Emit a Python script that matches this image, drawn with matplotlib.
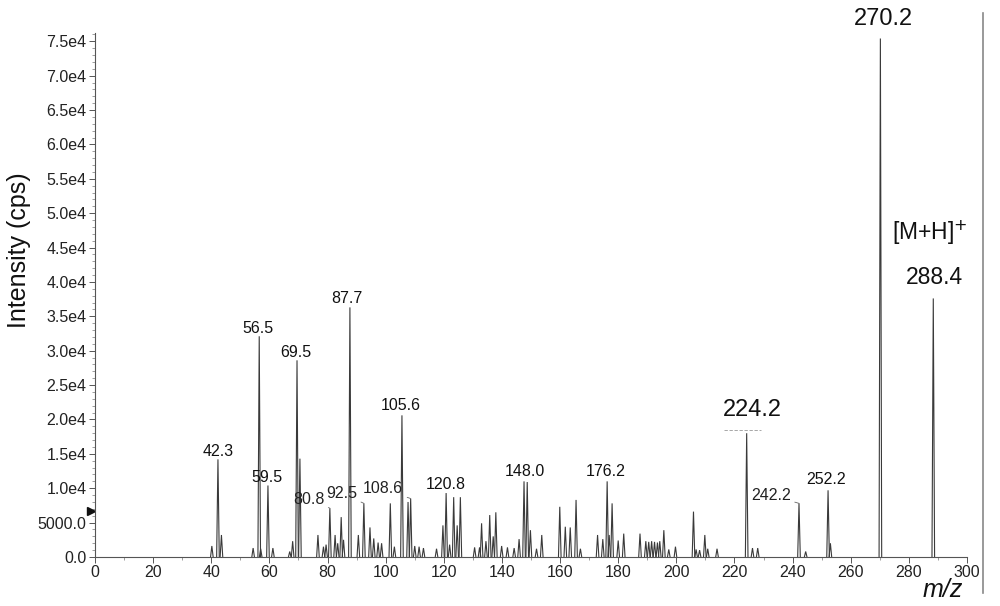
import matplotlib
matplotlib.use("Agg")
import matplotlib.pyplot as plt
from matplotlib.lines import Line2D
from matplotlib.ticker import MultipleLocator, FixedLocator, FixedFormatter

plt.rcParams['font.family'] = ['Liberation Sans', 'DejaVu Sans']

# --- data (m/z, intensity in cps) ---
peak_mz = [40.2, 42.3, 43.5, 54.4, 56.5, 57.0, 59.5, 61.2, 67.0, 68.0,
           69.5, 70.5, 76.7, 78.6, 79.5, 80.8, 82.6, 83.5, 84.7, 85.5,
           87.7, 90.6, 92.5, 94.6, 95.9, 97.4, 98.6, 101.6, 103.0, 105.6,
           107.7, 108.6, 110.0, 111.5, 113.0, 117.5, 119.7, 120.8, 122.0, 123.4,
           124.6, 125.7, 130.6, 132.3, 133.0, 134.5, 135.8, 137.0, 137.9, 139.9,
           141.9, 144.2, 145.9, 147.6, 148.7, 149.8, 151.9, 153.7, 159.9, 161.8,
           163.5, 165.5, 167.0, 172.9, 174.7, 176.2, 176.9, 177.9, 180.0, 181.9,
           187.5, 189.5, 190.5, 191.5, 192.5, 193.5, 194.3, 195.7, 197.4, 199.7,
           205.9, 206.8, 208.0, 209.8, 210.8, 214.0, 224.2, 226.2, 228.0, 242.2,
           244.5, 252.2, 253.0, 270.2, 288.4]
peak_int = [1600, 14200, 3200, 1300, 32100, 1200, 10400, 1300, 800, 2300,
            28600, 14300, 3200, 1500, 1800, 7100, 3200, 2000, 5800, 2500,
            36300, 3200, 7800, 4300, 2700, 2100, 2000, 7800, 1500, 20600,
            8000, 8500, 1600, 1500, 1300, 1200, 4600, 9300, 1800, 8700,
            4600, 8700, 1400, 1400, 4900, 2300, 6100, 3000, 6500, 1600,
            1400, 1300, 2600, 11000, 10900, 3900, 1200, 3200, 7300, 4400,
            4300, 8300, 1200, 3200, 2600, 11000, 3200, 7800, 2400, 3400,
            3400, 2300, 2200, 2300, 2200, 2100, 2300, 3900, 1100, 1500,
            6600, 1100, 1000, 3200, 1200, 1200, 18000, 1300, 1300, 7800,
            800, 9700, 2000, 75400, 37600]

label_text = ["42.3", "56.5", "59.5", "69.5", "87.7", "80.8", "92.5", "105.6",
              "108.6", "120.8", "148.0", "176.2", "224.2", "242.2", "252.2",
              "270.2", "288.4", "[M+H]$^{+}$"]
label_peak = [42.3, 56.5, 59.5, 69.5, 87.7, 80.8, 92.5, 105.6,
              108.6, 120.8, 148.0, 176.2, 224.2, 242.2, 252.2,
              270.2, 288.4, 288.4]

ytick_vals = [0, 5000, 10000, 15000, 20000, 25000, 30000, 35000, 40000,
              45000, 50000, 55000, 60000, 65000, 70000, 75000]
ytick_text = ["0.0", "5000.0", "1.0e4", "1.5e4", "2.0e4", "2.5e4", "3.0e4",
              "3.5e4", "4.0e4", "4.5e4", "5.0e4", "5.5e4", "6.0e4", "6.5e4",
              "7.0e4", "7.5e4"]

# label layout (data coords of text centre) and leader lines
label_xy = [(42.4, 15400), (56.1, 33300), (59.1, 11600), (69.1, 29800),
            (86.8, 37600), (73.5, 8400), (84.8, 9300), (105.3, 22100),
            (99.1, 9900), (120.7, 10500), (148.0, 12400), (175.7, 12400),
            (226.3, 21400), (232.5, 9000), (251.6, 11200),
            (271.1, 78200), (288.9, 40700), (287.2, 47100)]
big_labels = {"224.2": 17, "270.2": 17, "288.4": 16.5, "[M+H]$^{+}$": 16.5}
leader = ["80.8", "92.5", "108.6", "242.2"]

fig = plt.figure(figsize=(10, 6.06), dpi=100)
ax = fig.add_axes([0.095, 1 - 557 / 606, 0.872, 524 / 606])

# each peak drawn as a narrow triangle
half_w = 0.45
for mz, h in zip(peak_mz, peak_int):
    ax.plot([mz - half_w, mz, mz + half_w], [0, h, 0],
            color='#3a3a3a', lw=0.8, solid_joinstyle='miter')

ax.set_xlim(0, 300)
ax.set_ylim(0, 76200)

for s in ['top', 'right']:
    ax.spines[s].set_visible(False)
for s in ['left', 'bottom']:
    ax.spines[s].set_color('#555555')
    ax.spines[s].set_linewidth(0.8)

ax.xaxis.set_major_locator(MultipleLocator(20))
ax.xaxis.set_minor_locator(MultipleLocator(10))
ax.yaxis.set_major_locator(FixedLocator(ytick_vals))
ax.yaxis.set_major_formatter(FixedFormatter(ytick_text))
ax.yaxis.set_minor_locator(MultipleLocator(1000))
ax.tick_params(which='major', length=4, width=0.7, color='#555555',
               labelsize=11.5, labelcolor='#222222', pad=2)
ax.tick_params(which='minor', length=2, width=0.5, color='#777777')

fig.text(0.019, 1 - 250 / 606, "Intensity (cps)", rotation=90, fontsize=18,
         ha='center', va='center', color='#111111')
fig.text(0.943, 1 - 590 / 606, "m/z", style='italic', fontsize=18,
         ha='center', va='center', color='#111111')

for txt, pk, (lx, ly) in zip(label_text, label_peak, label_xy):
    fs = big_labels.get(txt, 11.5)
    if txt in leader:
        h = peak_int[peak_mz.index(pk)]
        ax.annotate(txt, xy=(pk, h), xytext=(lx, ly), fontsize=fs,
                    ha='center', va='center', color='#222222',
                    arrowprops=dict(arrowstyle='-', color='#666666', lw=0.6,
                                    shrinkA=1, shrinkB=0))
    else:
        ax.text(lx, ly, txt, fontsize=fs, ha='center', va='center',
                color='#111111', clip_on=False)

# faint dashed line under the 224.2 label
ax.plot([216.5, 229.2], [18500, 18500], color='#999999', lw=0.6,
        ls=(0, (4, 2)))

# threshold marker on the intensity axis
ax.plot([-1.3], [6700], marker='>', color='#111111', markersize=6,
        clip_on=False)

# scanned page edge on the right
fig.add_artist(Line2D([0.983, 0.983], [1 - 593 / 606, 1 - 13 / 606],
                      color='#888888', lw=1.2))

fig.savefig("out.png", dpi=100, facecolor='white')
